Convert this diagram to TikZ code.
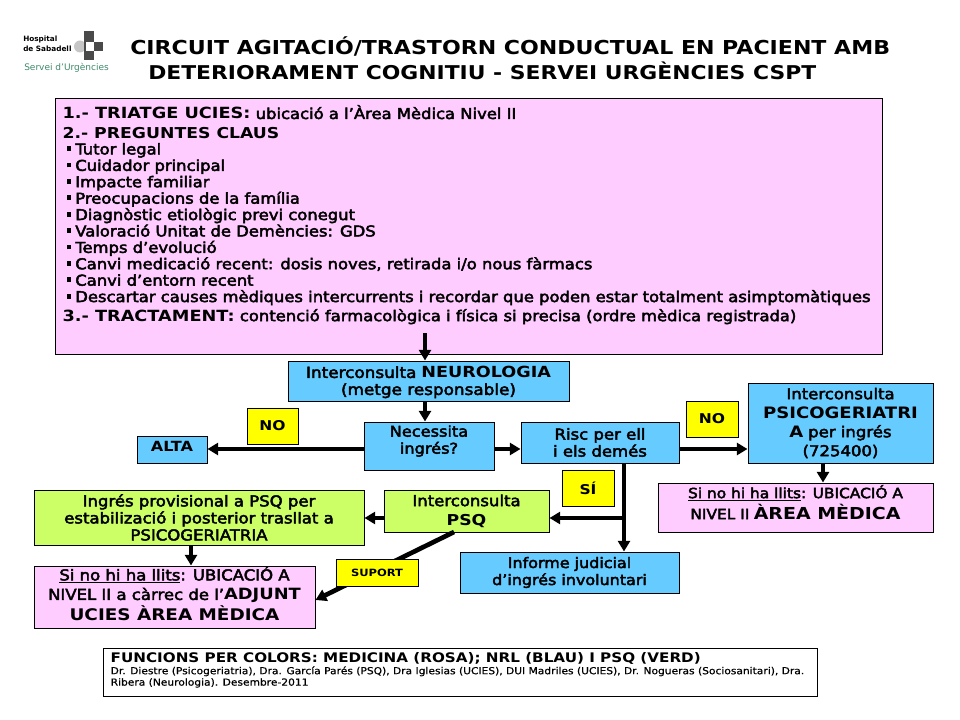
\documentclass[tikz,border=0pt]{standalone}
\usepackage{fontspec}
\usetikzlibrary{arrows.meta}
\setmainfont{DejaVu Sans}
\newfontfamily\medf{DejaVu Sans}[FakeBold=3,FakeStretch=1.1]
\newfontfamily\smf{DejaVu Sans}[FakeBold=0.6,FakeStretch=1.1]
\newfontfamily\boldf{DejaVu Sans Bold}[FakeStretch=1.15]
\newfontfamily\logof{DejaVu Sans Bold}
\definecolor{pinkbox}{HTML}{FFCCFF}
\definecolor{bluebox}{HTML}{66CCFF}
\definecolor{greenbox}{HTML}{CCFF66}
\definecolor{yellowbox}{HTML}{FFFF00}
\definecolor{logogrey}{HTML}{4A4A4A}
\definecolor{logogreen}{HTML}{3E8A6A}
\newcommand{\pxf}[2]{\fontsize{\dimexpr #1pt*3/4\relax}{\dimexpr #2pt*3/4\relax}\selectfont}
\newcommand{\M}[1]{{\medf #1}}
\newcommand{\B}[1]{{\boldf #1}}
\newcommand{\lift}[2]{\raisebox{#1}[0pt][0pt]{\vbox to 0pt{\vss\hbox{\begin{tabular}{@{}c@{}}#2\end{tabular}}\vss}}}
\newcommand{\bxy}[7]{\node[#6,minimum width={(#4-#2)*0.75pt},minimum height={(#5-#3)*0.75pt}] (#1) at ({(#2+#4)/2},{(#3+#5)/2}) {#7};}
\tikzset{
 boxbase/.style={draw=black,line width=0.75pt,inner sep=0pt,align=center},
 pinknode/.style={boxbase,fill=pinkbox},
 bluenode/.style={boxbase,fill=bluebox},
 greennode/.style={boxbase,fill=greenbox},
 yellownode/.style={boxbase,fill=yellowbox},
 whitenode/.style={boxbase,fill=white},
 conn/.style={line width=3.5pt,-{Triangle[width=9pt,length=8pt]}},
 label/.style={inner sep=0pt,align=left},
}
\newcommand{\bul}{\hspace*{3pt}\raisebox{2.6pt}{\rule{3.6pt}{3.6pt}}\hspace{3pt}}
\begin{document}
\begin{tikzpicture}[x=0.75pt,y=-0.75pt]
\useasboundingbox (0,0) rectangle (960,720);
% logo
\node[label,anchor=west] (logoa) at (23,39) {\logof\pxf{7.3}{10}Hospital};
\node[label,anchor=west] (logob) at (23,49) {\logof\pxf{7.3}{10}de Sabadell};
\node[label,anchor=west,text=logogreen] (logoc) at (24,67.5) {\pxf{9}{10}Servei d’Urgències};
\fill[gray!45] (80,46.5) circle (6);
\fill[logogrey] (84,31) rectangle (94,60);
\fill[logogrey] (84,42) rectangle (103,51);
\fill[white] (86,42) rectangle (94,51);
% title
\node[label,anchor=west] (t1) at (130,46) {\boldf\pxf{19.2}{24}CIRCUIT AGITACIÓ/TRASTORN CONDUCTUAL EN PACIENT AMB};
\node[label,anchor=west] (t2) at (148,71) {\boldf\pxf{19}{24}DETERIORAMENT COGNITIU - SERVEI URGÈNCIES CSPT};
% boxes
\bxy{main}{55}{99}{882}{354}{pinknode}{\parbox[c][191pt][t]{609pt}{\raggedright\pxf{14.9}{16.4}\medf
\vspace*{4.5pt}
{\boldf\pxf{15.4}{16.4}1.- TRIATGE UCIES:} \pxf{14.9}{16.4}ubicació a l’Àrea Mèdica Nivel II\par
\vspace{2pt}
{\boldf\pxf{15}{16.4}2.- PREGUNTES CLAUS}\par
\bul Tutor legal\par
\bul Cuidador principal\par
\bul Impacte familiar\par
\bul Preocupacions de la família\par
\bul Diagnòstic etiològic previ conegut\par
\bul Valoració Unitat de Demències: GDS\par
\bul Temps d’evolució\par
\bul Canvi medicació recent: dosis noves, retirada i/o nous fàrmacs\par
\bul Canvi d’entorn recent\par
\bul Descartar causes mèdiques intercurrents i recordar que poden estar totalment asimptomàtiques\par
\vspace{2pt}
{\boldf\pxf{15.4}{16.4}3.- TRACTAMENT:} \pxf{14.9}{16.4}contenció farmacològica i física si precisa (ordre mèdica registrada)\par}}
\bxy{neuro}{288}{361}{569}{401}{bluenode,font=\pxf{15.3}{17}}{\lift{-1.5pt}{\M{Interconsulta} \B{NEUROLOGIA}\\\M{(metge responsable)}}}
\bxy{neces}{364}{422}{494}{470}{bluenode,font=\pxf{14.7}{17}}{\lift{3.2pt}{\M{Necessita}\\\M{ingrés?}}}
\bxy{alta}{137}{436}{207}{463}{bluenode,font=\pxf{14}{17}}{\lift{0.8pt}{\B{ALTA}}}
\bxy{no1}{247}{408}{298}{444}{yellownode,font=\pxf{13.5}{17}}{\B{NO}}
\bxy{risc}{521}{422}{679}{463}{bluenode,font=\pxf{15}{17}}{\M{Risc per ell}\\\M{i els demés}}
\bxy{no2}{686}{401}{738}{437}{yellownode,font=\pxf{13.5}{17}}{\B{NO}}
\bxy{psico}{748}{383}{933}{463}{bluenode,font=\pxf{15}{19}}{\M{Interconsulta}\\{\pxf{15.7}{19}\B{PSICOGERIATRI}}\\{\pxf{15.7}{19}\B{A}} \M{per ingrés}\\\M{(725400)}}
\bxy{sino}{658}{483}{933}{532}{pinknode,font=\pxf{14}{19}}{\lift{2pt}{\M{\underline{Si no hi ha llits}: UBICACIÓ A}\\\M{NIVEL II} {\pxf{16.5}{19}\B{ÀREA MÈDICA}}}}
\bxy{si}{562}{470}{614}{506}{yellownode,font=\pxf{13.5}{17}}{\B{SÍ}}
\bxy{inf}{460}{552}{679}{593}{bluenode,font=\pxf{14.5}{17}}{\M{Informe judicial}\\\M{d’ingrés involuntari}}
\bxy{ipsq}{384}{490}{549}{532}{greennode,font=\pxf{15}{19}}{\M{Interconsulta}\\\B{PSQ}}
\bxy{ing}{34}{490}{364}{545}{greennode,font=\pxf{15}{17}}{\M{Ingrés provisional a PSQ per}\\\M{estabilizació i posterior trasllat a}\\\M{PSICOGERIATRIA}}
\bxy{sino2}{34}{566}{315}{628}{pinknode,font=\pxf{15}{19.5}}{\lift{0.4pt}{\M{\underline{Si no hi ha llits}: UBICACIÓ A}\\\M{NIVEL II a càrrec de l’}{\pxf{15.5}{19.5}\B{ADJUNT}}\\{\pxf{16}{19.5}\B{UCIES ÀREA MÈDICA}}}}
% connectors
\coordinate (mstart) at (425,333);
\coordinate (rsplit) at (624,518);
\coordinate (psqout) at (454,532);
\draw[conn] (mstart) -- (neuro.north -| mstart);
\draw[conn] (neuro.south -| mstart) -- (neces.north -| mstart);
\draw[conn] (neces.west |- 0,449) -- (alta.east |- 0,449);
\draw[conn] (neces.east |- 0,449) -- (risc.west |- 0,449);
\draw[conn] (risc.east |- 0,449) -- (psico.west |- 0,449);
\draw[conn] (psico.south -| 823,0) -- (sino.north -| 823,0);
\draw[conn] (risc.south -| rsplit) -- (inf.north -| rsplit);
\draw[conn] (rsplit) -- (ipsq.east |- rsplit);
\draw[conn] (ipsq.west |- 0,518) -- (ing.east |- 0,518);
\draw[conn] (ing.south -| 191,0) -- (sino2.north -| 191,0);
\draw[conn] (psqout) -- (sino2.east |- 0,600);
\bxy{sup}{336}{559}{418}{586}{yellownode,font=\pxf{10}{12}}{\B{SUPORT}}
% footer
\bxy{foot}{103}{648}{817}{696}{whitenode}{\parbox[c][36pt][t]{524pt}{\raggedright\vspace*{3.6pt}\pxf{13.2}{14.6}\B{FUNCIONS PER COLORS: MEDICINA (ROSA); NRL (BLAU) I PSQ (VERD)}\par
\pxf{9.7}{11.4}\smf Dr. Diestre (Psicogeriatria), Dra. García Parés (PSQ), Dra Iglesias (UCIES), DUI Madriles (UCIES), Dr. Nogueras (Sociosanitari), Dra.\\ Ribera (Neurologia). Desembre-2011\par}}
\end{tikzpicture}
\end{document}
